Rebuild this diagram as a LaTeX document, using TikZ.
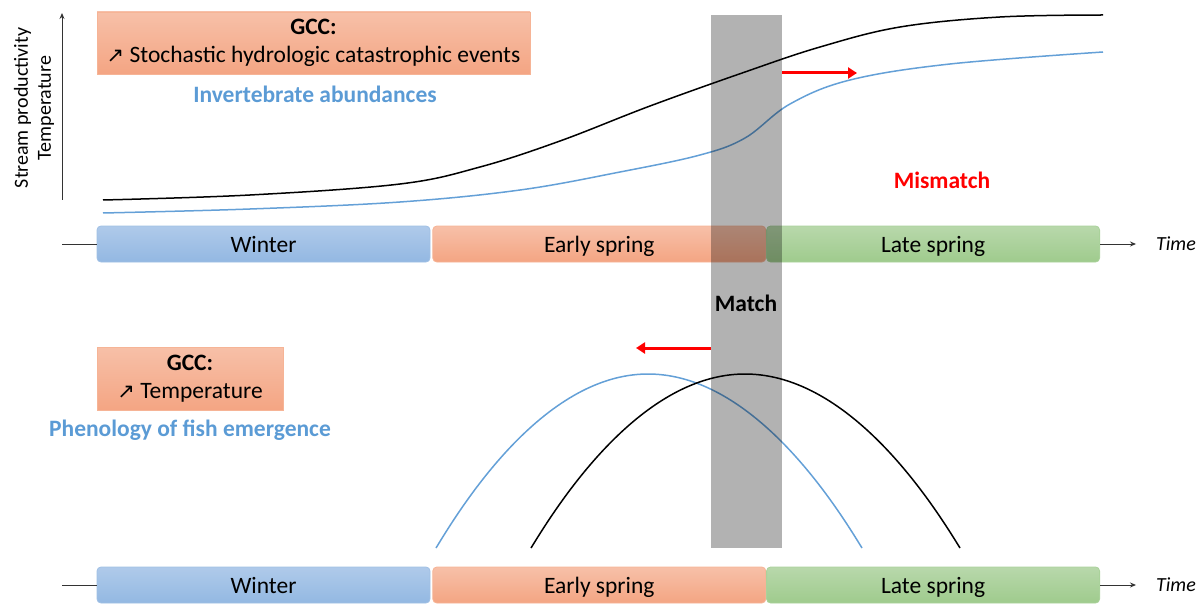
\documentclass[tikz,border=0pt]{standalone}
\usepackage{fontspec}
\setmainfont{Carlito}
\newfontfamily\symbolfont{DejaVu Sans}
\usetikzlibrary{positioning,arrows.meta}

\definecolor{winterTop}{RGB}{175,202,234}
\definecolor{winterBot}{RGB}{147,184,226}
\definecolor{winterLine}{RGB}{160,192,228}
\definecolor{salmonTop}{RGB}{247,192,168}
\definecolor{salmonBot}{RGB}{244,165,131}
\definecolor{salmonLine}{RGB}{246,180,150}
\definecolor{greenTop}{RGB}{184,216,171}
\definecolor{greenBot}{RGB}{159,203,141}
\definecolor{greenLine}{RGB}{170,210,155}
\definecolor{textBlue}{RGB}{91,155,213}
\definecolor{curveBlue}{RGB}{100,160,215}

\newcommand{\gccarrow}{{\symbolfont\fontsize{21}{24}\selectfont ↗}}

\begin{document}
\begin{tikzpicture}[
        x=1pt, y=-1pt,
        node distance=0pt and 2pt,
        font=\fontsize{23.5}{28}\selectfont,
        season/.style={rectangle, rounded corners=4pt, minimum width=333pt, minimum height=36pt, inner sep=0pt, text height=17pt, text depth=1pt, line width=0.8pt},
        winter/.style={season, draw=winterLine, top color=winterTop, bottom color=winterBot},
        early/.style={season, draw=salmonLine, top color=salmonTop, bottom color=salmonBot},
        late/.style={season, draw=greenLine, top color=greenTop, bottom color=greenBot},
        gccbox/.style={rectangle, draw=salmonLine, top color=salmonTop, bottom color=salmonBot, align=center, inner sep=0pt, line width=0.8pt},
        timeline/.style={draw=black!80, line width=0.9pt},
        timearrow/.style={timeline, -{Stealth[length=6pt, width=5pt]}},
        matchband/.style={rectangle, fill=black, fill opacity=0.3, minimum width=71pt, minimum height=533pt, inner sep=0pt},
        shiftarrow/.style={red, line width=3pt, -{Triangle[length=9pt, width=11pt]}},
        curveblack/.style={black, line width=1.5pt},
        curveblue/.style={curveBlue, line width=1.5pt}
    ]
    \useasboundingbox (0,0) rectangle (1204,604);

    % Axis
    \coordinate (axisBot) at (62,200);
    \coordinate (axisTop) at (62,13);
    \draw[timeline, -{Stealth[length=6pt, width=5pt]}] (axisBot) -- (axisTop);
    \node[rotate=90, align=center, font=\fontsize{20}{23}\selectfont] (ylabel) at (34,108) {Stream productivity\\Temperature};

    % Top timeline
    \node[winter] (winterA) at (263.5,244) {Winter};
    \node[early, right=of winterA] (earlyA) {Early spring};
    \node[late, right=0pt of earlyA] (lateA) {Late spring};
    \coordinate (startA) at (62,244);
    \coordinate (endA) at (1136,244);
    \node[font=\fontsize{20}{23}\selectfont\itshape] (timeA) at (1176,244) {Time};
    \draw[timeline] (startA) -- (winterA.west);
    \draw[timearrow] (lateA.east) -- (endA);

    % Bottom timeline
    \node[winter] (winterB) at (263.5,585) {Winter};
    \node[early, right=of winterB] (earlyB) {Early spring};
    \node[late, right=0pt of earlyB] (lateB) {Late spring};
    \coordinate (startB) at (62,585);
    \coordinate (endB) at (1136,585);
    \node[font=\fontsize{20}{23}\selectfont\itshape] (timeB) at (1176,585) {Time};
    \draw[timeline] (startB) -- (winterB.west);
    \draw[timearrow] (lateB.east) -- (endB);

    % GCC boxes and labels
    \node[gccbox, minimum width=433pt, minimum height=62pt] (gccA) at (313.5,43) {\textbf{GCC:}\\\gccarrow{} Stochastic hydrologic catastrophic events};
    \node[text=textBlue, font=\fontsize{23.5}{28}\selectfont\bfseries] (invert) at (315,94) {Invertebrate abundances};
    \node[gccbox, minimum width=186pt, minimum height=63pt] (gccB) at (190,378.5) {\textbf{GCC:}\\\gccarrow{} Temperature};
    \node[text=textBlue, font=\fontsize{23.5}{28}\selectfont\bfseries] (fish) at (190,430) {Phenology of fish emergence};

    % Curves
    \draw[curveblack] plot[smooth, tension=0.6] coordinates {(103,200) (250,195) (400,184) (480,167) (560,141) (650,106) (745,72) (820,47) (900,27) (1000,17) (1103,15)};
    \draw[curveblue] plot[smooth, tension=0.6] coordinates {(103,213) (250,209) (400,202) (520,190) (620,172) (700,155) (745,138) (790,104) (850,80) (950,64) (1103,52)};
    \draw[curveblue] (436,548) parabola bend (648,374) (862,548);
    \draw[curveblack] (531,548) parabola bend (745,374) (960,548);

    % Match band
    \node[matchband] (band) at (746.5,281.5) {};
    \node[font=\fontsize{23.5}{28}\selectfont\bfseries] (match) at (746,303) {Match};
    \node[text=red, font=\fontsize{23.5}{28}\selectfont\bfseries] (mismatch) at (942,180) {Mismatch};

    % Arrows
    \coordinate (laterEnd) at (857,73);
    \coordinate (earlierEnd) at (636,348);
    \draw[shiftarrow] (band.east |- laterEnd) -- (laterEnd);
    \draw[shiftarrow] (band.west |- earlierEnd) -- (earlierEnd);
\end{tikzpicture}
\end{document}
